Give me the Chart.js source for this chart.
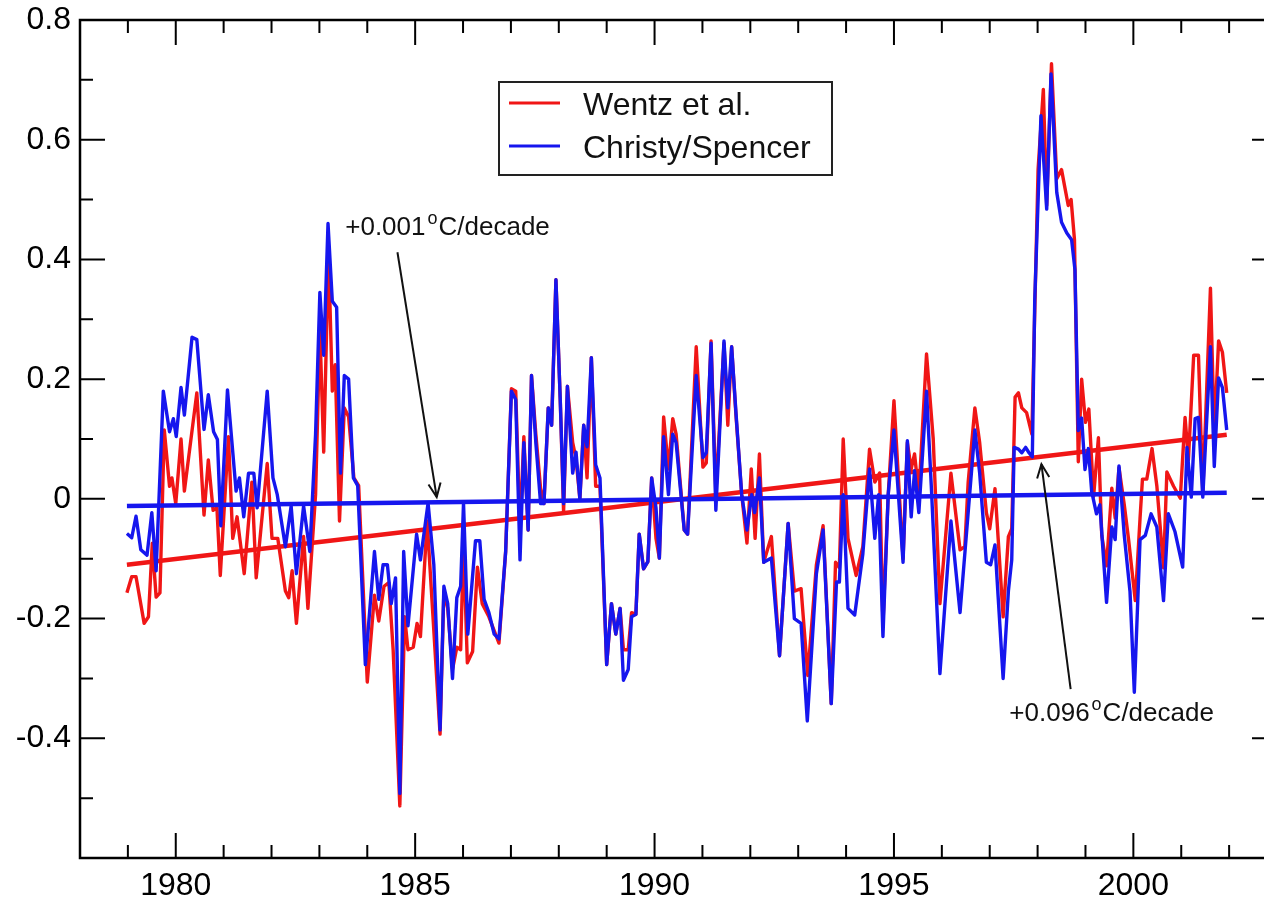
<!DOCTYPE html>
<html>
<head>
<meta charset="utf-8">
<script src="https://cdn.jsdelivr.net/npm/chart.js@4.4.1/dist/chart.umd.min.js"></script>
<style>
html,body{margin:0;padding:0;background:#fff;overflow:hidden;width:1264px;height:899px}
#wrap{width:1300px;height:899px;position:relative}
canvas{display:block}
</style>
</head>
<body>
<div id="wrap"><canvas id="c" width="1300" height="899"></canvas></div>
<script>
// ---------------- data ----------------
const seriesLabels = ['Wentz et al.', 'Christy/Spencer'];

const wentzYears = [
1978.98,1979.08,1979.17,1979.34,1979.43,1979.51,1979.59,1979.67,1979.76,1979.87,
1979.92,1980.00,1980.11,1980.18,1980.44,1980.59,1980.68,1980.78,1980.86,1980.93,
1981.10,1981.19,1981.28,1981.43,1981.59,1981.68,1981.91,1982.01,1982.13,1982.29,
1982.36,1982.43,1982.52,1982.67,1982.76,1982.92,1983.01,1983.09,1983.19,1983.27,
1983.33,1983.42,1983.52,1983.61,1983.72,1983.82,1984.00,1984.15,1984.24,1984.35,
1984.45,1984.54,1984.68,1984.78,1984.85,1984.96,1985.04,1985.11,1985.25,1985.39,
1985.52,1985.60,1985.68,1985.78,1985.87,1985.95,1986.01,1986.09,1986.20,1986.30,
1986.40,1986.54,1986.65,1986.75,1986.89,1987.01,1987.10,1987.19,1987.27,1987.36,
1987.43,1987.52,1987.62,1987.69,1987.78,1987.85,1987.94,1988.03,1988.10,1988.18,
1988.29,1988.36,1988.44,1988.52,1988.59,1988.68,1988.77,1988.86,1989.00,1989.10,
1989.19,1989.28,1989.35,1989.45,1989.52,1989.61,1989.68,1989.77,1989.86,1989.94,
1990.03,1990.10,1990.19,1990.29,1990.38,1990.45,1990.62,1990.69,1990.87,1991.01,
1991.08,1991.18,1991.28,1991.45,1991.53,1991.61,1991.70,1991.82,1991.93,1992.02,
1992.10,1992.19,1992.28,1992.44,1992.61,1992.79,1992.92,1993.06,1993.20,1993.38,
1993.52,1993.69,1993.78,1993.86,1993.94,1994.04,1994.21,1994.35,1994.49,1994.60,
1994.70,1994.77,1994.88,1995.00,1995.19,1995.28,1995.36,1995.43,1995.52,1995.68,
1995.82,1995.96,1996.19,1996.38,1996.48,1996.55,1996.69,1996.79,1996.93,1997.00,
1997.11,1997.28,1997.39,1997.46,1997.53,1997.60,1997.67,1997.77,1997.88,1998.01,
1998.12,1998.19,1998.29,1998.40,1998.50,1998.57,1998.64,1998.70,1998.77,1998.85,
1998.92,1999.00,1999.07,1999.17,1999.27,1999.34,1999.44,1999.55,1999.62,1999.70,
1999.81,1999.90,2000.04,2000.14,2000.19,2000.28,2000.39,2000.49,2000.63,2000.70,
2000.84,2000.98,2001.08,2001.15,2001.26,2001.36,2001.45,2001.61,2001.69,2001.78,
2001.86,2001.95
];
const wentzAnom = [
-0.157,-0.13,-0.13,-0.208,-0.197,-0.074,-0.164,-0.157,0.115,0.021,
0.035,-0.008,0.1,0.013,0.177,-0.027,0.065,-0.019,-0.015,-0.128,
0.104,-0.066,-0.03,-0.125,0.028,-0.132,0.059,-0.066,-0.066,-0.154,
-0.165,-0.12,-0.208,-0.063,-0.183,0.007,0.283,0.078,0.414,0.18,
0.224,-0.037,0.152,0.137,0.035,0.022,-0.306,-0.161,-0.204,-0.146,
-0.14,-0.252,-0.513,-0.197,-0.252,-0.248,-0.208,-0.23,-0.037,-0.22,
-0.393,-0.154,-0.183,-0.285,-0.248,-0.252,-0.074,-0.274,-0.255,-0.114,
-0.175,-0.197,-0.22,-0.241,-0.088,0.184,0.18,-0.052,0.104,-0.052,
0.206,0.108,0.017,-0.008,0.152,0.123,0.366,0.166,-0.022,0.188,
0.094,0.067,0.0,0.123,0.035,0.236,0.021,0.021,-0.277,-0.175,
-0.226,-0.183,-0.252,-0.252,-0.19,-0.193,-0.059,-0.117,-0.105,0.035,
-0.066,-0.099,0.137,0.05,0.134,0.108,-0.052,-0.059,0.254,0.053,
0.06,0.264,0.007,0.26,0.123,0.254,0.14,0.007,-0.074,0.05,
-0.066,0.075,-0.106,-0.063,-0.262,-0.041,-0.154,-0.15,-0.295,-0.11,
-0.045,-0.342,-0.106,-0.115,0.1,-0.066,-0.128,-0.08,0.083,0.028,
0.043,-0.21,0.007,0.164,-0.1,0.094,0.05,0.075,0.007,0.242,
0.1,-0.175,0.043,-0.085,-0.08,0.028,0.152,0.094,-0.023,-0.05,
0.017,-0.197,-0.063,-0.05,0.17,0.177,0.152,0.144,0.108,0.55,
0.684,0.49,0.727,0.535,0.55,0.52,0.49,0.5,0.433,0.062,
0.2,0.128,0.15,0.004,0.102,-0.061,-0.112,0.018,-0.032,0.052,
-0.01,-0.068,-0.17,-0.032,0.033,0.033,0.084,0.022,-0.115,0.045,
0.021,0.001,0.136,0.065,0.24,0.24,0.008,0.352,0.108,0.264,
0.245,0.177
];

const christyYears = [
1978.98,1979.08,1979.17,1979.27,1979.40,1979.50,1979.59,1979.74,1979.87,1979.95,
1980.01,1980.11,1980.18,1980.34,1980.44,1980.59,1980.68,1980.79,1980.87,1980.94,
1981.08,1981.26,1981.33,1981.42,1981.52,1981.63,1981.70,1981.91,1982.03,1982.12,
1982.29,1982.41,1982.52,1982.67,1982.80,1982.92,1983.01,1983.09,1983.18,1983.27,
1983.36,1983.44,1983.52,1983.61,1983.71,1983.80,1983.96,1984.15,1984.24,1984.33,
1984.42,1984.50,1984.59,1984.68,1984.76,1984.85,1985.03,1985.11,1985.27,1985.39,
1985.52,1985.60,1985.68,1985.78,1985.87,1985.95,1986.01,1986.10,1986.26,1986.35,
1986.44,1986.54,1986.65,1986.75,1986.89,1987.01,1987.10,1987.19,1987.27,1987.36,
1987.43,1987.52,1987.62,1987.69,1987.78,1987.85,1987.94,1988.03,1988.10,1988.18,
1988.29,1988.36,1988.44,1988.52,1988.59,1988.68,1988.77,1988.86,1989.00,1989.10,
1989.19,1989.28,1989.35,1989.45,1989.52,1989.61,1989.68,1989.77,1989.86,1989.94,
1990.03,1990.10,1990.19,1990.29,1990.38,1990.45,1990.62,1990.69,1990.87,1991.01,
1991.08,1991.18,1991.28,1991.45,1991.53,1991.61,1991.70,1991.82,1991.93,1992.03,
1992.09,1992.19,1992.28,1992.44,1992.61,1992.79,1992.92,1993.06,1993.19,1993.38,
1993.52,1993.69,1993.80,1993.86,1993.94,1994.04,1994.18,1994.35,1994.49,1994.60,
1994.68,1994.77,1994.88,1995.00,1995.19,1995.28,1995.36,1995.43,1995.52,1995.68,
1995.78,1995.96,1996.19,1996.38,1996.69,1996.79,1996.93,1997.02,1997.11,1997.28,
1997.39,1997.46,1997.51,1997.60,1997.67,1997.75,1997.82,1997.89,1997.94,1998.07,
1998.19,1998.28,1998.40,1998.50,1998.61,1998.71,1998.78,1998.85,1998.92,1998.99,
1999.06,1999.13,1999.23,1999.30,1999.44,1999.55,1999.62,1999.70,1999.81,1999.93,
2000.02,2000.14,2000.25,2000.37,2000.49,2000.63,2000.73,2000.87,2001.03,2001.12,
2001.21,2001.29,2001.36,2001.45,2001.61,2001.69,2001.78,2001.86,2001.95
];
const christyAnom = [
-0.058,-0.065,-0.029,-0.085,-0.094,-0.023,-0.12,0.18,0.112,0.134,
0.104,0.186,0.14,0.27,0.266,0.116,0.174,0.112,0.099,-0.045,
0.182,0.013,0.035,-0.03,0.043,0.043,-0.015,0.18,0.035,0.007,
-0.08,-0.012,-0.125,-0.012,-0.088,0.108,0.345,0.24,0.46,0.33,
0.32,0.043,0.206,0.2,0.035,0.022,-0.277,-0.088,-0.168,-0.11,
-0.11,-0.175,-0.132,-0.492,-0.088,-0.212,-0.059,-0.102,-0.007,-0.11,
-0.386,-0.146,-0.175,-0.3,-0.165,-0.146,-0.007,-0.226,-0.07,-0.07,
-0.168,-0.19,-0.226,-0.234,-0.088,0.18,0.166,-0.102,0.094,-0.052,
0.206,0.094,-0.008,-0.008,0.152,0.123,0.366,0.166,-0.008,0.188,
0.043,0.078,0.0,0.123,0.087,0.236,0.057,0.035,-0.277,-0.175,
-0.226,-0.183,-0.303,-0.285,-0.197,-0.193,-0.059,-0.117,-0.105,0.035,
-0.015,-0.099,0.104,0.007,0.108,0.094,-0.052,-0.059,0.206,0.069,
0.077,0.26,-0.019,0.264,0.152,0.254,0.144,0.007,-0.052,0.007,
-0.023,0.035,-0.106,-0.099,-0.262,-0.041,-0.2,-0.208,-0.371,-0.125,
-0.052,-0.342,-0.139,-0.139,0.007,-0.183,-0.194,-0.092,0.05,-0.066,
0.007,-0.23,0.007,0.115,-0.106,0.097,-0.03,0.047,-0.023,0.18,
0.021,-0.292,-0.037,-0.19,0.115,0.043,-0.106,-0.11,-0.077,-0.3,
-0.154,-0.102,0.086,0.083,0.077,0.086,0.077,0.07,0.331,0.64,
0.484,0.71,0.512,0.462,0.444,0.433,0.383,0.114,0.135,0.049,
0.084,0.012,-0.025,-0.01,-0.173,-0.047,-0.068,0.055,-0.061,-0.155,
-0.323,-0.068,-0.061,-0.025,-0.047,-0.17,-0.025,-0.055,-0.114,0.086,
0.003,0.134,0.136,0.003,0.254,0.054,0.202,0.186,0.115
];

// linear trend lines (end points)
const trendYears   = [1978.98, 2001.95];
const wentzTrend   = [-0.110, 0.107];
const christyTrend = [-0.012, 0.010];

// annotation labels
const trendRates = ['+0.001', '+0.096'];
const trendUnit = 'C/decade';

// axis ticks
const xTickYears = [1980, 1985, 1990, 1995, 2000];
const yTickValues = [-0.4, -0.2, 0, 0.2, 0.4, 0.6, 0.8];

// ---------------- chart ----------------
const RED = 'rgb(240,22,22)';
const BLUE = 'rgb(22,22,238)';
const FONT = "'Liberation Sans', Arial, Helvetica, sans-serif";

const toXY = (xs, ys) => xs.map((x, i) => ({x, y: ys[i]}));

const frameTicks = {
  id: 'frameTicks',
  beforeDatasetsDraw(chart) {
    const {ctx, chartArea: a, scales: {x, y}} = chart;
    ctx.save();
    ctx.strokeStyle = '#000';
    ctx.lineWidth = 2;
    ctx.beginPath();
    for (const t of x.ticks) {
      const px = x.getPixelForValue(t.value);
      if (px <= a.left + 1 || px >= a.right - 1) continue;
      const major = Math.round(t.value) % 5 === 0;
      const len = major ? 25 : 13;
      ctx.moveTo(px, a.bottom); ctx.lineTo(px, a.bottom - len);
      ctx.moveTo(px, a.top); ctx.lineTo(px, a.top + len);
    }
    for (const t of y.ticks) {
      const py = y.getPixelForValue(t.value);
      if (py <= a.top + 1 || py >= a.bottom - 1) continue;
      const major = Math.abs(Math.round(t.value * 10)) % 2 === 0;
      const len = major ? 25 : 13;
      ctx.moveTo(a.left, py); ctx.lineTo(a.left + len, py);
      ctx.moveTo(a.right, py); ctx.lineTo(a.right - len, py);
    }
    ctx.stroke();
    ctx.lineWidth = 2.5;
    ctx.strokeRect(a.left, a.top, a.right - a.left, a.bottom - a.top);
    ctx.restore();
  }
};

function arrow(ctx, x1, y1, x2, y2) {
  ctx.beginPath(); ctx.moveTo(x1, y1); ctx.lineTo(x2, y2); ctx.stroke();
  const ang = Math.atan2(y2 - y1, x2 - x1), L = 15, s = 0.42;
  ctx.beginPath();
  ctx.moveTo(x2 - L * Math.cos(ang - s), y2 - L * Math.sin(ang - s));
  ctx.lineTo(x2, y2);
  ctx.lineTo(x2 - L * Math.cos(ang + s), y2 - L * Math.sin(ang + s));
  ctx.stroke();
}

function rateLabel(ctx, rate, x, y) {
  ctx.font = '26px ' + FONT;
  ctx.textBaseline = 'alphabetic';
  ctx.textAlign = 'left';
  ctx.fillText(rate, x, y);
  let w = ctx.measureText(rate).width + 2;
  ctx.font = '18px ' + FONT;
  ctx.fillText('o', x + w, y - 11);
  w += ctx.measureText('o').width + 1;
  ctx.font = '26px ' + FONT;
  ctx.fillText(trendUnit, x + w, y);
}

const overlay = {
  id: 'overlay',
  afterDatasetsDraw(chart) {
    const {ctx, scales: {x, y}} = chart;
    const X = v => x.getPixelForValue(v), Y = v => y.getPixelForValue(v);
    ctx.save();
    // legend box
    const bx = 499, by = 82, bw = 333, bh = 93;
    ctx.fillStyle = '#fff';
    ctx.fillRect(bx, by, bw, bh);
    ctx.strokeStyle = '#222';
    ctx.lineWidth = 2;
    ctx.strokeRect(bx, by, bw, bh);
    const rows = [[RED, 103], [BLUE, 146]];
    rows.forEach(([c, ly], i) => {
      ctx.strokeStyle = c; ctx.lineWidth = 3;
      ctx.beginPath(); ctx.moveTo(509, ly); ctx.lineTo(560, ly); ctx.stroke();
      ctx.fillStyle = '#111';
      ctx.font = '32px ' + FONT;
      ctx.textBaseline = 'alphabetic';
      ctx.fillText(seriesLabels[i], 583, ly + 12);
    });
    // annotations
    ctx.fillStyle = '#111';
    ctx.strokeStyle = '#111';
    ctx.lineWidth = 2;
    rateLabel(ctx, trendRates[0], X(1983.54), Y(0.44));
    arrow(ctx, X(1984.63), Y(0.412), X(1985.45), Y(0.003));
    rateLabel(ctx, trendRates[1], X(1997.41), Y(-0.371));
    arrow(ctx, X(1998.69), Y(-0.318), X(1998.08), Y(0.058));
    ctx.restore();
  }
};

new Chart(document.getElementById('c'), {
  type: 'line',
  data: {
    datasets: [
      {label: seriesLabels[1] + ' trend', data: toXY(trendYears, christyTrend), borderColor: BLUE, borderWidth: 4.5, order: 0},
      {label: seriesLabels[1], data: toXY(christyYears, christyAnom), borderColor: BLUE, borderWidth: 3.4, order: 1},
      {label: seriesLabels[0] + ' trend', data: toXY(trendYears, wentzTrend), borderColor: RED, borderWidth: 4.5, order: 2},
      {label: seriesLabels[0], data: toXY(wentzYears, wentzAnom), borderColor: RED, borderWidth: 3.4, order: 3}
    ]
  },
  options: {
    responsive: false,
    animation: false,
    devicePixelRatio: 1,
    layout: {padding: {top: 20, right: 23, left: 0, bottom: 0}},
    elements: {point: {radius: 0}, line: {tension: 0, fill: false, borderJoinStyle: 'round'}},
    plugins: {legend: {display: false}, tooltip: {enabled: false}},
    scales: {
      x: {
        type: 'linear', min: 1978, max: 2003,
        grid: {display: false, drawTicks: false},
        border: {display: false},
        afterFit(s) { s.height = 41; s.paddingLeft = 0; s.paddingRight = 0; },
        ticks: {
          stepSize: 1, autoSkip: false, maxRotation: 0, padding: 9,
          color: '#000', font: {family: FONT, size: 32},
          callback: v => xTickYears.includes(Math.round(v)) ? String(Math.round(v)) : ''
        }
      },
      y: {
        type: 'linear', min: -0.6, max: 0.8,
        grid: {display: false, drawTicks: false},
        border: {display: false},
        afterFit(s) { s.width = 80; s.paddingTop = 0; s.paddingBottom = 0; },
        ticks: {
          stepSize: 0.1, autoSkip: false, padding: 9,
          color: '#000', font: {family: FONT, size: 32},
          callback: v => {
            const r = Math.round(v * 10);
            const hit = yTickValues.find(t => Math.round(t * 10) === r);
            if (hit === undefined) return '';
            return r === 0 ? '0' : (r / 10).toFixed(1);
          }
        }
      }
    }
  },
  plugins: [frameTicks, overlay]
});
</script>
</body>
</html>
